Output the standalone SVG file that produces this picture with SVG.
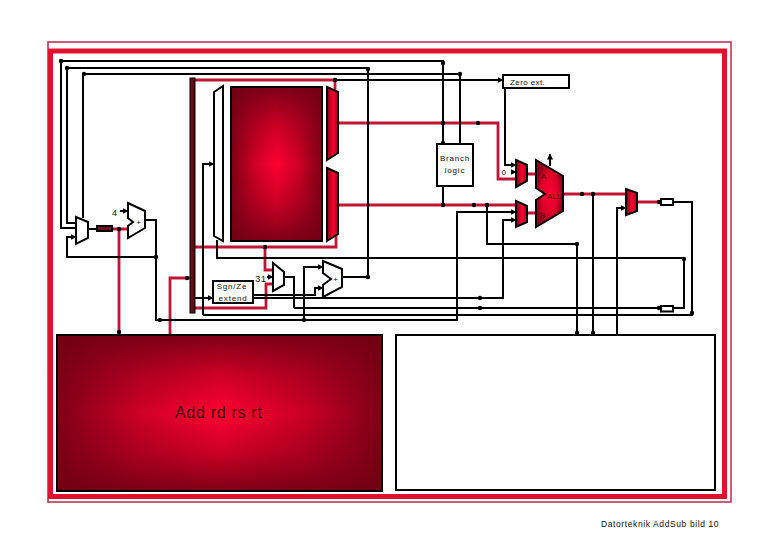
<svg xmlns="http://www.w3.org/2000/svg" width="780" height="540" viewBox="0 0 780 540">
<style>
text{font-family:"Liberation Sans",Arial,sans-serif;fill:#111}
.k{fill:none;stroke:#000;stroke-width:2}
.r{fill:none;stroke:#c01535;stroke-width:2.8}
.w{fill:#fff;stroke:#000;stroke-width:2}
.m{stroke:#000;stroke-width:2;stroke-linejoin:miter}
.l{font-size:8px;letter-spacing:.8px}
.in{font-size:8px;fill:#500010}
.big{fill:#ff0030;stroke:none}
.ol{fill:none;stroke:#000;stroke-width:2}
</style>
<defs>
<marker id="a" viewBox="0 0 6 6" refX="5.5" refY="3" markerWidth="3" markerHeight="3" orient="auto"><path d="M0 0L6 3L0 6z" fill="#000"/></marker>
<circle id="d" r="2.2" fill="#000"/>
<linearGradient id="gv"><stop offset="0" stop-color="#800014"/><stop offset=".55" stop-color="#ff0030"/><stop offset="1" stop-color="#a0001c"/></linearGradient>
<radialGradient id="gu"><stop offset="0" stop-color="#ff0030"/><stop offset=".6" stop-color="#e00028"/><stop offset="1" stop-color="#90001a"/></radialGradient>
<linearGradient id="sh"><stop offset="0" stop-color="#700012" stop-opacity=".9"/><stop offset=".25" stop-color="#700012" stop-opacity=".35"/><stop offset=".5" stop-color="#700012" stop-opacity="0"/><stop offset=".75" stop-color="#700012" stop-opacity=".35"/><stop offset="1" stop-color="#700012" stop-opacity=".9"/></linearGradient>
<linearGradient id="sv" x2="0" y2="1"><stop offset="0" stop-color="#700012" stop-opacity=".9"/><stop offset=".25" stop-color="#700012" stop-opacity=".35"/><stop offset=".5" stop-color="#700012" stop-opacity="0"/><stop offset=".75" stop-color="#700012" stop-opacity=".35"/><stop offset="1" stop-color="#700012" stop-opacity=".9"/></linearGradient>
<linearGradient id="bus"><stop offset="0" stop-color="#7a1020"/><stop offset="1" stop-color="#4a0810"/></linearGradient>
</defs>
<rect width="780" height="540" fill="#fff"/>
<g id="frame">
<rect x="48" y="42" width="683" height="460" fill="none" stroke="#b82848" stroke-width="1.500"/>
<rect x="50.500" y="51" width="674" height="445.500" fill="none" stroke="#e0102f" stroke-width="5"/>
</g>
<g id="connectors">
<path class="r" d="M195 80H335V92"/>
<path class="r" d="M338 123H498V179H516"/>
<path class="r" d="M338 205H516"/>
<path class="r" d="M527 174H536M527 213H536"/>
<path class="r" d="M563 194H626M638 202H661"/>
<path class="r" d="M195 247H336V234"/>
<path class="r" d="M265 247V270H273M195 308H266V284H273"/>
<path class="r" d="M112 229H128M119 229V333M170 334V278H190"/>
<path class="k" d="M443 144V61H61V228H76"/>
<path class="k" d="M67 68H368V277H342M67 68V223H76"/>
<path class="k" d="M460 144V74H83V218"/>
<path class="k" d="M335 80H503" marker-end="url(#a)"/>
<path class="k" d="M505 88V165H516" marker-end="url(#a)"/>
<path class="k" d="M511 172H516" marker-end="url(#a)"/>
<path class="k" d="M443 186V205"/>
<path class="k" d="M550 166V154" marker-end="url(#a)"/>
<path class="k" d="M145 220H156V320H457V212H516" marker-end="url(#a)"/>
<path class="k" d="M156 257H67V237H76" marker-end="url(#a)"/>
<path class="k" d="M88 229H97"/>
<path class="k" d="M120 211H128" marker-end="url(#a)"/>
<path class="k" d="M195 298H213" marker-end="url(#a)"/>
<path class="k" d="M203 315V164H214" marker-end="url(#a)"/>
<path class="k" d="M203 315H692V202H673"/>
<path class="k" d="M217 240V258H684V308H673"/>
<path class="k" d="M294 308H661M285 277H294V308"/>
<path class="k" d="M253 295H315V288H323" marker-end="url(#a)"/>
<path class="k" d="M253 298H503V220H516" marker-end="url(#a)"/>
<path class="k" d="M304 320V267H323" marker-end="url(#a)"/>
<path class="k" d="M267 277H273" marker-end="url(#a)"/>
<path class="k" d="M487 205V244H577V333"/>
<path class="k" d="M593 194V333"/>
<path class="k" d="M617 335V208H626" marker-end="url(#a)"/>
<use href="#d" x="61" y="61"/><use href="#d" x="67" y="68"/><use href="#d" x="84" y="74"/>
<use href="#d" x="335" y="80"/><use href="#d" x="368" y="69"/><use href="#d" x="443" y="63"/><use href="#d" x="460" y="74"/><use href="#d" x="443" y="143"/>
<use href="#d" x="443" y="123"/><use href="#d" x="478" y="123"/><use href="#d" x="443" y="205"/><use href="#d" x="474" y="205"/><use href="#d" x="487" y="205"/>
<use href="#d" x="582" y="194"/><use href="#d" x="593" y="194"/><use href="#d" x="577" y="244"/>
<use href="#d" x="684" y="259"/><use href="#d" x="692" y="313"/><use href="#d" x="577" y="333"/><use href="#d" x="593" y="333"/>
<use href="#d" x="480" y="298"/><use href="#d" x="480" y="308"/><use href="#d" x="304" y="320"/><use href="#d" x="368" y="277"/>
<use href="#d" x="119" y="229"/><use href="#d" x="119" y="332"/><use href="#d" x="156" y="257"/><use href="#d" x="160" y="320"/><use href="#d" x="187" y="278"/><use href="#d" x="265" y="247"/>
<use href="#d" x="659" y="202"/><use href="#d" x="659" y="308"/>
</g>
<g id="bus-bar"><rect x="190" y="78" width="5" height="235" fill="url(#bus)" stroke="#000" stroke-width="1"/></g>
<g id="pc-mux"><path class="w" d="M76 217L88 222V238L76 244z"/></g>
<g id="pc-reg"><rect x="97" y="226" width="15" height="5" fill="#701020" stroke="#000" stroke-width="2"/></g>
<g id="pc-adder"><path class="w" d="M128 203L145 211V228L128 238V226L133 222L128 218z"/><text x="139" y="225" class="l" text-anchor="middle">+</text><text x="115" y="216" class="l" style="font-size:9px" text-anchor="middle">4</text></g>
<g id="reg-select"><path class="w" d="M214 92L223 86V241L214 236z"/></g>
<g id="register-file"><rect class="big" x="231" y="87" width="91" height="154"/><rect x="231" y="87" width="91" height="154" fill="url(#sh)"/><rect x="231" y="87" width="91" height="154" fill="url(#sv)"/><rect class="ol" x="231" y="87" width="91" height="154"/></g>
<g id="read-mux-a"><path class="m" fill="url(#gv)" d="M327 87L338 92V153L327 160z"/></g>
<g id="read-mux-b"><path class="m" fill="url(#gv)" d="M327 168L338 173V234L327 241z"/></g>
<g id="branch-logic"><rect class="w" x="437" y="144" width="36" height="42"/><text class="l" x="455" y="161" text-anchor="middle">Branch</text><text class="l" x="455" y="173" text-anchor="middle">logic</text></g>
<g id="zero-ext"><rect class="w" x="503" y="75" width="66" height="13"/><text class="l" x="510" y="84.500" style="letter-spacing:.4px">Zero ext.</text></g>
<g id="mux-a"><path class="m" fill="url(#gv)" d="M516 160L527 165V181L516 187z"/><text class="l" x="504" y="175" text-anchor="middle">0</text></g>
<g id="mux-b"><path class="m" fill="url(#gv)" d="M516 201L527 206V222L516 227z"/></g>
<g id="alu"><path class="m" fill="url(#gu)" d="M536 160L563 176V211L536 227V200L545 194L536 188z"/><text class="in" x="541" y="179">A</text><text class="in" x="547" y="199">ALU</text><text class="in" x="540" y="218">B</text></g>
<g id="result-mux"><path class="m" fill="url(#gv)" d="M626 189L637 193V211L626 215z"/></g>
<g id="reg-1"><rect x="661" y="199" width="12" height="6" fill="#fff" stroke="#000" stroke-width="2"/></g>
<g id="reg-2"><rect x="661" y="306" width="12" height="5.500" fill="#fff" stroke="#000" stroke-width="2"/></g>
<g id="sign-extend"><rect class="w" x="213" y="281" width="40" height="22"/><text class="l" x="232" y="289" text-anchor="middle">Sgn/Ze</text><text class="l" x="233" y="301" text-anchor="middle">extend</text></g>
<g id="imm-mux"><path class="w" d="M273 263L284 272V285L273 291z"/><text class="l" x="261" y="282" text-anchor="middle" style="font-size:9px">31</text></g>
<g id="branch-adder"><path class="w" d="M323 261L342 269V287L323 297V285L331 279L323 273z"/><text class="l" x="336" y="282" text-anchor="middle">+</text></g>
<g id="instruction-memory"><rect class="big" x="57" y="335" width="325" height="156"/><rect x="57" y="335" width="325" height="156" fill="url(#sh)"/><rect x="57" y="335" width="325" height="156" fill="url(#sv)"/><rect class="ol" x="57" y="335" width="325" height="156"/>
<text x="175" y="418" font-size="16" letter-spacing=".7" style="fill:#4a0010">Add rd rs rt</text></g>
<g id="data-memory"><rect class="w" x="396" y="335" width="319" height="155"/></g>
<text x="601" y="527" font-size="8.500" letter-spacing=".6">Datorteknik AddSub bild 10</text>
</svg>
